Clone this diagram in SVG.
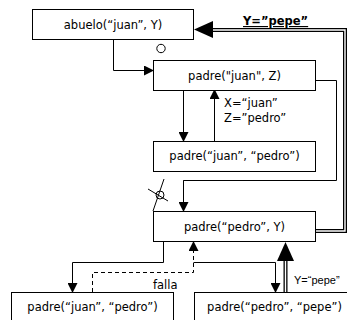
<svg xmlns="http://www.w3.org/2000/svg" width="347" height="320" viewBox="0 0 347 320">
<defs>
<marker id="ah" markerWidth="10" markerHeight="10" refX="9" refY="5" orient="auto" markerUnits="userSpaceOnUse">
<path d="M0,0 L10,5 L0,10 Z" fill="#000"/>
</marker>
</defs>
<style>
.box{fill:#fff;stroke:#000;stroke-width:1}
.t{font-family:"DejaVu Sans",Verdana,sans-serif;font-size:11.5px;fill:#000}
.c{text-anchor:middle}
.ln{fill:none;stroke:#000;stroke-width:1}
.arr{marker-end:url(#ah)}
.dash{stroke-dasharray:4,3}
.dbo{fill:none;stroke:#000;stroke-width:4}
.dbi{fill:none;stroke:#fff;stroke-width:1.4}
</style>
<rect width="347" height="320" fill="#fff"/>
<g id="connectors">
<path class="ln arr" d="M113.5,40 V70.5 H153"/>
<path class="ln" d="M316,80.5 H336.5 V180.5 H183.5 V202"/>
<path class="ln arr" d="M183.5,180.5 V211"/>
<path class="ln arr" d="M183.5,90 V141"/>
<path class="ln arr" d="M214.5,141 V90"/>
<path class="ln arr" d="M163.5,242 V262.5 H72.5 V292"/>
<path class="ln dash arr" d="M92.5,292 V272.5 H193.5 V242"/>
<path class="ln arr" d="M193.5,262.5 H275.5 V292"/>
<path class="dbo" d="M315,231 H345 V30 H212"/>
<path class="dbi" d="M315,231 H345 V30 H212"/>
<path d="M194,29.5 L213,21 L213,38 Z" fill="#000"/>
<path class="dbo" d="M285.5,292 V260"/>
<path class="dbi" d="M285.5,292 V260"/>
<path d="M285.5,242 L277,261 L294,261 Z" fill="#000"/>
<circle cx="161" cy="48.5" r="4.2" fill="#fff" stroke="#000" stroke-width="1"/>
<circle cx="160" cy="195" r="4" fill="none" stroke="#000" stroke-width="1"/>
<line x1="164" y1="179" x2="153" y2="211" stroke="#000" stroke-width="1"/>
<line x1="148" y1="189" x2="168" y2="201" stroke="#000" stroke-width="1"/>
<text class="t" x="243" y="25" font-weight="bold" text-decoration="underline">Y=”pepe”</text>
<text class="t" x="224" y="107">X=“juan”</text>
<text class="t" x="224" y="122">Z=”pedro”</text>
<text class="t" x="153" y="289">falla</text>
<text class="t" x="294" y="284" style="font-family:'Liberation Sans',Arial,sans-serif;font-size:11px">Y=“pepe”</text>
</g>
<g id="n1"><rect class="box" x="32.5" y="9.5" width="161" height="30"/><text class="t c" x="113" y="29">abuelo(“juan”, Y)</text></g>
<g id="n2"><rect class="box" x="153.5" y="60.5" width="162" height="30"/><text class="t c" x="234.5" y="80">padre("juan", Z)</text></g>
<g id="n3"><rect class="box" x="153.5" y="141.5" width="162" height="30"/><text class="t c" x="234.5" y="160">padre(“juan”, “pedro”)</text></g>
<g id="n4"><rect class="box" x="153.5" y="211.5" width="162" height="30"/><text class="t c" x="234.5" y="231">padre(“pedro”, Y)</text></g>
<g id="n5"><rect class="box" x="11.5" y="292.5" width="162" height="30"/><text class="t c" x="92.5" y="311">padre(“juan”, “pedro”)</text></g>
<g id="n6"><rect class="box" x="194.5" y="292.5" width="162" height="30"/><text class="t c" x="274.5" y="311">padre(“pedro”, “pepe”)</text></g>
</svg>
